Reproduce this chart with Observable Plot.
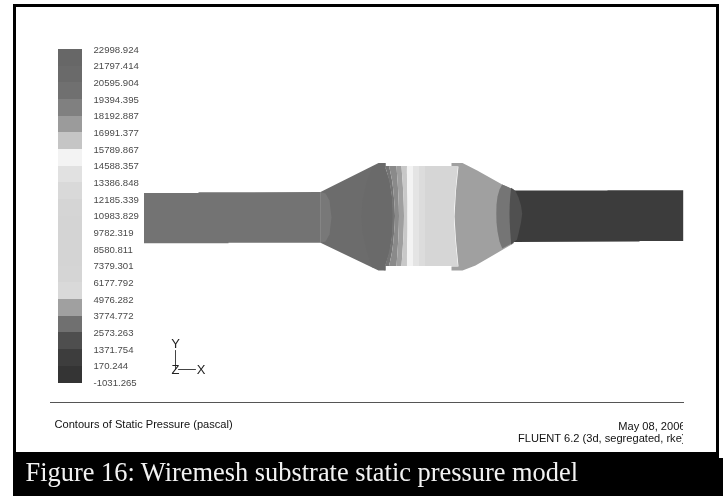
<!DOCTYPE html>
<html>
<head>
<meta charset="utf-8">
<style>
html,body{margin:0;padding:0;background:#fff}
#chart svg{display:block;filter:blur(0.4px)}
</style>
<script src="https://cdn.jsdelivr.net/npm/d3@7"></script>
<script src="https://cdn.jsdelivr.net/npm/@observablehq/plot@0.6"></script>
</head>
<body>
<div id="chart"></div>
<script>
// Colour bar
const levelLabels = ["22998.924","21797.414","20595.904","19394.395","18192.887","16991.377","15789.867","14588.357","13386.848","12185.339","10983.829","9782.319","8580.811","7379.301","6177.792","4976.282","3774.772","2573.263","1371.754","170.244","-1031.265"];
const levelColors = ["#676767","#6a6a6a","#707070","#808080","#9b9b9b","#c5c5c5","#f3f3f3","#e1e1e1","#d9d9d9","#d5d5d5","#d4d4d4","#d4d4d4","#d4d4d4","#d5d5d5","#d9d9d9","#a0a0a0","#707070","#4e4e4e","#3d3d3d","#343434"];
const barTop = 49, barBottom = 382.5, barLeft = 58, barRight = 82, labelX = 93;

// Model outline pieces, in picture units: [x, y]
const leftPipe = [[143.5,192.5],[198,192.5],[198,191.8],[320,191.5],[320,242.3],[228,242.3],[228,242.8],[143.5,242.8]];
const leftPipeCap = [[320,191.5],[325,193],[329,200],[331,217],[329,234],[325,241],[320,242.3]];
const leftCone = [[320,191.5],[378,162.5],[385,162.5],[385,168],[389,180],[392,200],[392.5,216],[392,232],[389,252],[385,264],[385,270],[378,270],[320,242.3]];
const leftConeInner = [[372,166],[385,162.5],[385,168],[389,180],[392,200],[392.5,216],[392,232],[389,252],[385,264],[385,270],[372,267],[366,250],[362,232],[361,216],[362,200],[366,182]];
const rightCone = [[451,162.5],[462,162.5],[476.7,170],[501.7,184],[513,189],[513,243],[475,265],[462,270],[451,270],[451,266],[458,266],[455.5,240],[454,216],[455.5,190],[458,166],[451,166]];
const rightPipe = [[513,190],[607,190],[607,189.7],[682.7,189.7],[682.7,240.5],[639,240.5],[639,241],[513,241.5]];
const rightBandA = [[501.7,184],[513,189],[513,242],[501.7,248],[499,241],[497,231],[496,222],[495.8,213],[496,204],[497,196],[499,189]];
const rightBandB = [[510.7,187.3],[515,190.5],[518,197],[520.5,205],[521.7,213],[520.5,222],[518.5,231],[516.5,239],[510.7,244],[509.8,232],[509.2,222],[509,213],[509.2,204],[509.8,195]];

// Body strips: one left edge per strip at each height
const stripY = [166,180,198,216,234,252,266];
const stripEdges = [
  {color:"#747474", x:[385,389,392,392.5,392,389,385]},
  {color:"#8a8a8a", x:[389,392,394,395,394,392,389]},
  {color:"#9f9f9f", x:[396.5,397.5,398.5,399,398.5,397.5,396.5]},
  {color:"#c8c8c8", x:[401.5,402.5,403.5,404,403.5,402.5,401.5]},
  {color:"#f3f3f3", x:[407,407,407.5,407.5,407.5,407,407]},
  {color:"#e4e4e4", x:[413,413,413,413,413,413,413]},
  {color:"#dcdcdc", x:[419,419,419,419,419,419,419]},
  {color:"#d6d6d6", x:[425,425,425,425,425,425,425]}
];
const stripEnd = [458,456.5,455,454,455,456.5,458];

// Triad
const axisY = [[175,350],[175,369]];
const axisX = [[178,369],[195,369]];

// Frame and caption block
const frameBars = [
  {x1:13,x2:719,y1:4,y2:7},
  {x1:13,x2:16,y1:4,y2:452},
  {x1:716,x2:719,y1:4,y2:458},
  {x1:13,x2:723,y1:458,y2:496},
  {x1:13,x2:719,y1:452,y2:458}
];
const footLeft = "Contours of Static Pressure (pascal)";
const footRight = ["May 08, 2006","FLUENT 6.2 (3d, segregated, rke)"];
const caption = "Figure 16: Wiremesh substrate static pressure model";

const levelStep = (barBottom - barTop) / levelColors.length;
const levelRows = levelColors.map((c,i)=>({c, y1:barTop+i*levelStep, y2:barTop+(i+1)*levelStep}));
const labelRows = levelLabels.map((t,i)=>({t, y:barTop+i*levelStep}));
const stripRows = stripEdges.flatMap((s,k)=>stripY.map((y,i)=>({
  k, y, color:s.color, x1:s.x[i], x2: k+1<stripEdges.length ? stripEdges[k+1].x[i] : stripEnd[i]
})));
const poly = (pts,fill)=>Plot.line(pts,{x:d=>d[0],y:d=>d[1],fill,stroke:"none",curve:"linear-closed"});
const sans = "Liberation Sans, Arial, sans-serif";

const plot = Plot.plot({
  width:723,height:496,margin:0,
  style:{background:"#fff"},
  x:{domain:[0,723],range:[0,723],axis:null},
  y:{domain:[0,496],range:[0,496],axis:null},
  marks:[
    Plot.rect(levelRows,{x1:()=>barLeft,x2:()=>barRight,y1:"y1",y2:"y2",fill:"c",shapeRendering:"crispEdges"}),
    Plot.text(labelRows,{x:()=>labelX,y:"y",text:"t",textAnchor:"start",fontFamily:sans,fontSize:9.6,fill:"#4a4a4a"}),
    poly(leftPipe,"#737373"),
    poly(leftCone,"#6c6c6c"),
    poly(leftConeInner,"#6a6a6a"),
    poly(leftPipeCap,"#787878"),
    poly(rightCone,"#a0a0a0"),
    poly(rightPipe,"#3c3c3c"),
    poly(rightBandA,"#757575"),
    poly(rightBandB,"#505050"),
    Plot.areaX(stripRows,{x1:"x1",x2:"x2",y:"y",z:"k",fill:"color",curve:"catmull-rom"}),
    Plot.line(axisY,{x:d=>d[0],y:d=>d[1],stroke:"#444",strokeWidth:1}),
    Plot.line(axisX,{x:d=>d[0],y:d=>d[1],stroke:"#444",strokeWidth:1}),
    Plot.text(["Y"],{x:()=>175,y:()=>343.5,fontFamily:sans,fontSize:13,fill:"#222"}),
    Plot.text(["Z"],{x:()=>175,y:()=>369,fontFamily:sans,fontSize:13,fill:"#222"}),
    Plot.text(["X"],{x:()=>200.5,y:()=>369,fontFamily:sans,fontSize:13,fill:"#222"}),
    Plot.ruleY([402],{x1:50,x2:684,stroke:"#555",strokeWidth:1}),
    Plot.text([footLeft],{x:()=>54,y:()=>424,textAnchor:"start",fontFamily:sans,fontSize:11.1,fill:"#111"}),
    Plot.text([footRight[0]],{x:()=>685,y:()=>426,textAnchor:"end",fontFamily:sans,fontSize:11.1,fill:"#111"}),
    Plot.text([footRight[1]],{x:()=>685,y:()=>438,textAnchor:"end",fontFamily:sans,fontSize:11.1,fill:"#111"}),
    Plot.rect([0],{x1:()=>683,x2:()=>716,y1:()=>415,y2:()=>452,fill:"#fff"}),
    Plot.rect(frameBars,{x1:"x1",x2:"x2",y1:"y1",y2:"y2",fill:"#000"}),
    Plot.text([caption],{x:()=>25,y:()=>472,textAnchor:"start",fontFamily:"Liberation Serif, serif",fontSize:26.4,fill:"#f2f2f2"})
  ]
});
document.getElementById("chart").appendChild(plot);
</script>
</body>
</html>
